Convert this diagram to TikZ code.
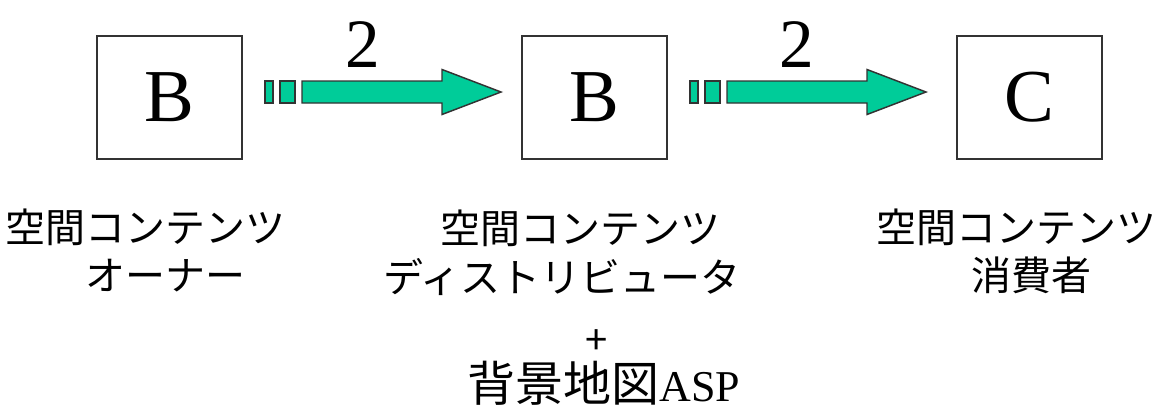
\documentclass[tikz,border=0pt]{standalone}
\usepackage{fontspec}
\setmainfont{Liberation Serif}
\newfontfamily\jp{Noto Sans CJK JP}
\usetikzlibrary{calc}
\definecolor{flow}{HTML}{00CC99}
\definecolor{edge}{HTML}{333333}
\tikzset{
  px/.style={x=0.75pt,y=-0.75pt},
  box/.style={draw=edge,line width=1.5pt,minimum width=108.75pt,minimum height=92.25pt,inner sep=0pt,
    font=\fontsize{56pt}{60pt}\selectfont},
  flowpart/.style={fill=flow,draw=edge,line width=1.1pt,line join=miter},
  count/.style={inner sep=0pt,anchor=base,font=\fontsize{52pt}{56pt}\selectfont},
  label/.style={inner sep=0pt,anchor=base,font=\jp\fontsize{30pt}{36pt}\selectfont},
}
% block arrow: two short dashes and a broad arrow, starting at #1
\newcommand\blockarrow[1]{%
  \draw[flowpart] ($(#1)+(0,-11)$) rectangle ++(8,22);
  \draw[flowpart] ($(#1)+(15,-11)$) rectangle ++(15,22);
  \draw[flowpart] ($(#1)+(37,-11)$) -- ++(140,0) -- ++(0,-11.5) -- ++(59,22.5)
    -- ++(-59,22.5) -- ++(0,-11.5) -- ++(-140,0) -- cycle;
}
\begin{document}
\begin{tikzpicture}[px]
\useasboundingbox (0,0) rectangle (1158,412);
% actors
\node[box] (b1) at (169.5,97.5) {B};
\node[box] (b2) at (594.5,97.5) {B};
\node[box] (b3) at (1029.5,97.5) {C};

% flows between actors
\coordinate (f1) at ($(b1.east)+(22,-5.5)$);
\coordinate (f2) at ($(b2.east)+(22,-5.5)$);
\blockarrow{f1}
\blockarrow{f2}
\node[count] (n1) at (363,67) {2};
\node[count] (n2) at (797,67) {2};

% role names
\node[label] (o1) at (146,242) {空間コンテンツ};
\node[label] (o2) at (165,290) {オーナー};
\node[label] (d1) at (580,243) {空間コンテンツ};
\node[label] (d2) at (562,292) {ディストリビュータ};
\node[label] (d3) at (597,354) {+};
\node[inner sep=0pt,anchor=base] (d4) at (604,401)
  {{\jp\fontsize{36pt}{40pt}\selectfont 背景地図}{\fontsize{33pt}{36pt}\selectfont ASP}};
\node[label] (c1) at (1016,242) {空間コンテンツ};
\node[label] (c2) at (1031,290) {消費者};
\end{tikzpicture}
\end{document}
